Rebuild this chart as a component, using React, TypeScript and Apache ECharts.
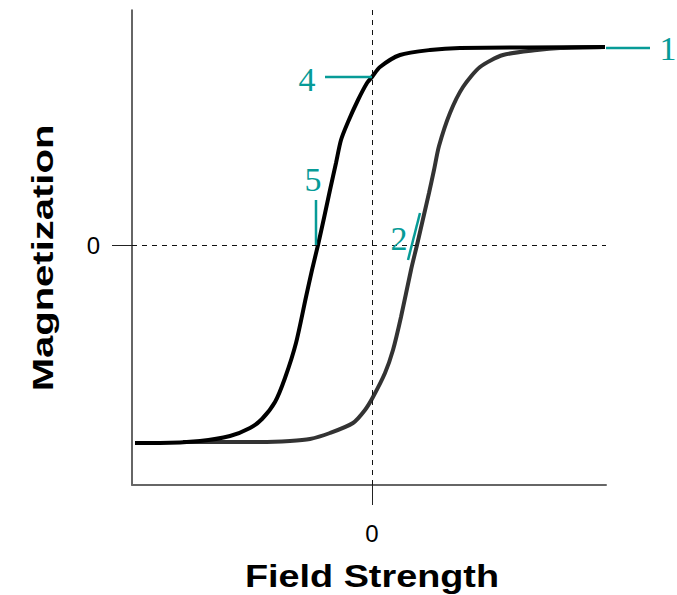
import React, { useEffect, useRef } from "react";
import * as echarts from "echarts";

// Hysteresis loop, in arbitrary field / magnetization units (0 = origin)
const descendingBranch: [number, number][] = [
  [-237, -198], [-212, -198], [-172, -196], [-142, -191], [-122, -183],
  [-110, -174], [-97, -157], [-87, -133], [-76, -98], [-66, -52],
  [-60, -25], [-54, 0], [-48, 27], [-42, 55], [-36, 82], [-31, 105],
  [-24, 123], [-14, 145], [-5, 162], [0, 168], [8, 178], [28, 190],
  [58, 195], [88, 197], [233, 198],
];

const ascendingBranch: [number, number][] = [
  [-189, -197], [-112, -197], [-82, -196], [-62, -194], [-42, -188],
  [-19, -178], [-7, -165], [1, -152], [13, -128], [21, -105], [29, -72],
  [39, -25], [45, 0], [51, 26], [57, 52], [62, 75], [67, 99],
  [78, 132], [91, 158], [108, 178], [131, 190], [165, 195], [188, 197],
  [233, 198],
];

const xTickValues = [0];
const yTickValues = [0];
const xTitle = "Field Strength";
const yTitle = "Magnetization";

// numbered callouts: segment start, segment end, label anchor (data units)
const calloutLabels = ["1", "4", "5", "2"];
const calloutFrom: [number, number][] = [[234, 197], [-47, 168], [-56, 45], [36, -15]];
const calloutTo: [number, number][] = [[278, 197], [0, 168], [-56, 0], [48, 32]];
const calloutText: [number, number][] = [[296, 197], [-65, 166], [-59, 66], [27, 7]];

const TEAL = "#079b97";
const SANS = "Liberation Sans";

export default function App() {
  const ref = useRef<HTMLDivElement>(null);

  useEffect(() => {
    if (!ref.current) return;
    const chart = echarts.init(ref.current, null, { renderer: "svg" });
    const option: any = {
      animation: false,
      backgroundColor: "#ffffff",
      grid: { left: 132, right: 71, top: 10, bottom: 110, containLabel: false },
      xAxis: {
        type: "value",
        min: -240,
        max: 234,
        interval: 240,
        splitLine: { show: false },
        axisLine: { show: true, onZero: false, lineStyle: { color: "#666", width: 2 } },
        axisTick: { show: true, length: 20, customValues: xTickValues, lineStyle: { color: "#222", width: 1 } },
        axisLabel: {
          customValues: xTickValues,
          formatter: (v: number) => String(v),
          margin: 36,
          fontSize: 24,
          fontFamily: SANS,
          color: "#000",
        },
      },
      yAxis: {
        type: "value",
        min: -240,
        max: 235,
        interval: 240,
        splitLine: { show: false },
        axisLine: { show: true, onZero: false, lineStyle: { color: "#333", width: 1.5 } },
        axisTick: { show: true, length: 20, customValues: yTickValues, lineStyle: { color: "#222", width: 1 } },
        axisLabel: {
          customValues: yTickValues,
          formatter: (v: number) => String(v),
          margin: 32,
          fontSize: 24,
          fontFamily: SANS,
          color: "#000",
        },
      },
      series: [
        {
          type: "line",
          name: "ascending",
          data: ascendingBranch,
          showSymbol: false,
          smooth: 0.25,
          clip: false,
          lineStyle: { color: "#333333", width: 4 },
          markLine: {
            silent: true,
            symbol: ["none", "none"],
            label: { show: false },
            lineStyle: { color: "#111", width: 1, type: [5, 5] },
            data: [{ xAxis: 0 }, { yAxis: 0 }],
          },
          z: 2,
        },
        {
          type: "line",
          name: "descending",
          data: descendingBranch,
          showSymbol: false,
          smooth: 0.25,
          clip: false,
          lineStyle: { color: "#000000", width: 4 },
          z: 3,
        },
      ],
    };
    chart.setOption(option);

    const px = (p: [number, number]) => chart.convertToPixel({ gridIndex: 0 }, p) as number[];
    const graphics: any[] = [];
    calloutLabels.forEach((lab, i) => {
      const a = px(calloutFrom[i]);
      const b = px(calloutTo[i]);
      const t = px(calloutText[i]);
      graphics.push({
        type: "line",
        shape: { x1: a[0], y1: a[1], x2: b[0], y2: b[1] },
        style: { stroke: TEAL, lineWidth: 2.5 },
        z: 10,
      });
      graphics.push({
        type: "text",
        x: t[0],
        y: t[1],
        style: {
          text: lab,
          fill: TEAL,
          fontFamily: "Liberation Serif",
          fontSize: 34,
          align: "center",
          verticalAlign: "middle",
        },
        z: 10,
      });
    });
    const xMid = px([0, -240]);
    graphics.push({
      type: "text",
      x: xMid[0],
      y: 576,
      scaleX: 1.22,
      style: {
        text: xTitle,
        fill: "#000",
        fontFamily: SANS,
        fontWeight: "bold",
        fontSize: 31,
        align: "center",
        verticalAlign: "middle",
      },
    });
    graphics.push({
      type: "text",
      x: 43,
      y: 258,
      rotation: Math.PI / 2,
      scaleX: 1.38,
      style: {
        text: yTitle,
        fill: "#000",
        fontFamily: SANS,
        fontWeight: "bold",
        fontSize: 29,
        align: "center",
        verticalAlign: "middle",
      },
    });
    chart.setOption({ graphic: graphics });

    return () => chart.dispose();
  }, []);

  return (
    <div
      ref={ref}
      style={{ position: "fixed", left: 0, top: 0, width: 677, height: 595, background: "#fff" }}
    />
  );
}
